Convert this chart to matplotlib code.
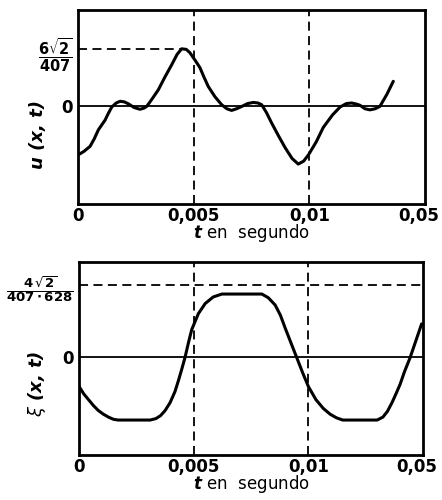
import matplotlib.pyplot as plt
from matplotlib.transforms import ScaledTranslation

# top curve u(x,t), in units of 6*sqrt(2)/407
t_u = [0.0, 0.00025, 0.00052, 0.0007, 0.00088, 0.00105, 0.00117, 0.0013, 0.00146,
       0.00165, 0.00182, 0.002, 0.00218, 0.00243, 0.00268, 0.00285, 0.00297, 0.0032,
       0.00347, 0.00375, 0.00405, 0.00428, 0.00448, 0.00468, 0.00484, 0.00506, 0.00527,
       0.00545, 0.00563, 0.00592, 0.00621, 0.00643, 0.00664, 0.00686, 0.00708, 0.00733,
       0.00758, 0.00778, 0.00794, 0.00815, 0.00837, 0.00866, 0.00895, 0.00925, 0.00952,
       0.00975, 0.00996, 0.0103, 0.0106, 0.011, 0.01133, 0.0116, 0.01183, 0.01205,
       0.01219, 0.0124, 0.01262, 0.01285, 0.01305, 0.01335, 0.01363]
u_vals = [-0.86, -0.80, -0.71, -0.58, -0.42, -0.32, -0.25, -0.14, -0.02,
          0.05, 0.08, 0.07, 0.035, -0.03, -0.06, -0.04, -0.01, 0.12,
          0.28, 0.50, 0.72, 0.90, 1.0, 0.99, 0.93, 0.80, 0.67,
          0.50, 0.34, 0.16, 0.02, -0.05, -0.08, -0.05, -0.01, 0.04,
          0.06, 0.05, 0.02, -0.12, -0.30, -0.52, -0.73, -0.92, -1.02,
          -0.97, -0.86, -0.63, -0.38, -0.16, -0.02, 0.04, 0.05, 0.03,
          0.01, -0.05, -0.07, -0.05, -0.01, 0.20, 0.43]

# bottom curve xi(x,t), in units of 4*sqrt(2)/(407*628)
t_xi = [0.0, 0.0002, 0.00041, 0.00062, 0.00084, 0.00106, 0.00128, 0.0015, 0.0017,
        0.0031, 0.00335, 0.00355, 0.00375, 0.00397, 0.00418, 0.00433, 0.00447, 0.00462,
        0.00476, 0.00491, 0.0052, 0.0055, 0.00585, 0.00623, 0.00797, 0.00825, 0.00855,
        0.00878, 0.00898, 0.00924, 0.00949, 0.00975, 0.01, 0.01033, 0.01065, 0.01095,
        0.01123, 0.0115, 0.0117, 0.013, 0.01325, 0.01345, 0.01365, 0.01385, 0.014,
        0.0142, 0.01443, 0.01468, 0.01494]
xi_vals = [-0.40, -0.50, -0.58, -0.66, -0.73, -0.78, -0.82, -0.85, -0.86,
           -0.86, -0.84, -0.80, -0.73, -0.62, -0.47, -0.32, -0.17, 0.0,
           0.19, 0.38, 0.60, 0.74, 0.83, 0.87, 0.87, 0.82, 0.72,
           0.58, 0.41, 0.20, 0.0, -0.21, -0.40, -0.58, -0.70, -0.78,
           -0.83, -0.86, -0.86, -0.86, -0.82, -0.74, -0.62, -0.48, -0.37,
           -0.19, -0.01, 0.22, 0.46]

x_ticks = [0, 0.005, 0.01, 0.015]
x_ticklabels = ['0', '0,005', '0,01', '0,05']
u_peak_label = r'$\mathbf{\dfrac{6\sqrt{2}}{407}}$'
xi_peak_label = r'$\mathbf{\dfrac{4\,\sqrt{2}}{407\cdot 628}}$'

fig = plt.figure(figsize=(4.42, 5.0), dpi=100)
ax1 = fig.add_axes([0.1765, 0.592, 0.785, 0.388])
ax2 = fig.add_axes([0.179, 0.09, 0.778, 0.386])

dash = (0, (5, 3))


def style_axis(ax, ylim, peak_label, peak_size, ylabel, label_y):
    ax.set_xlim(0, 0.015)
    ax.set_ylim(*ylim)
    for s in ax.spines.values():
        s.set_linewidth(2.0)
    ax.axhline(0, color='black', lw=1.3)
    for xv in [0.005, 0.01]:
        ax.axvline(xv, color='black', lw=1.3, ls=dash)
    ax.set_xticks(x_ticks)
    ax.set_xticklabels(x_ticklabels, fontsize=12, fontweight='bold')
    ax.set_yticks([0, 1.0])
    ax.set_yticklabels(['0', peak_label], fontsize=12, fontweight='bold')
    ax.get_yticklabels()[1].set_fontsize(peak_size)
    ax.tick_params(length=0, pad=4)
    ax.tick_params(axis='x', pad=2)
    # last label sits a little left of the frame edge
    last = ax.get_xticklabels()[-1]
    last.set_transform(last.get_transform() + ScaledTranslation(-6 / 100, 0, fig.dpi_scale_trans))
    ax.set_xlabel(r'$\mathbfit{t}$ en  segundo', fontsize=12, labelpad=-2)
    ax.set_ylabel(ylabel, fontsize=13, fontweight='bold', style='italic')
    ax.yaxis.set_label_coords(-0.09, label_y)


style_axis(ax1, (-1.72, 1.68), u_peak_label, 10.5, 'u (x, t)', 0.36)
ax1.plot([0, t_u[22]], [1.0, 1.0], color='black', lw=1.3, ls=dash)
ax1.plot(t_u, u_vals, color='black', lw=2.2, solid_capstyle='round', solid_joinstyle='round')

style_axis(ax2, (-1.34, 1.31), xi_peak_label, 9.5, r'$\xi$ (x, t)', 0.37)
ax2.axhline(1.0, color='black', lw=1.3, ls=dash)
ax2.plot(t_xi, xi_vals, color='black', lw=2.2, solid_capstyle='round', solid_joinstyle='round')

fig.savefig('out.png', dpi=100)
